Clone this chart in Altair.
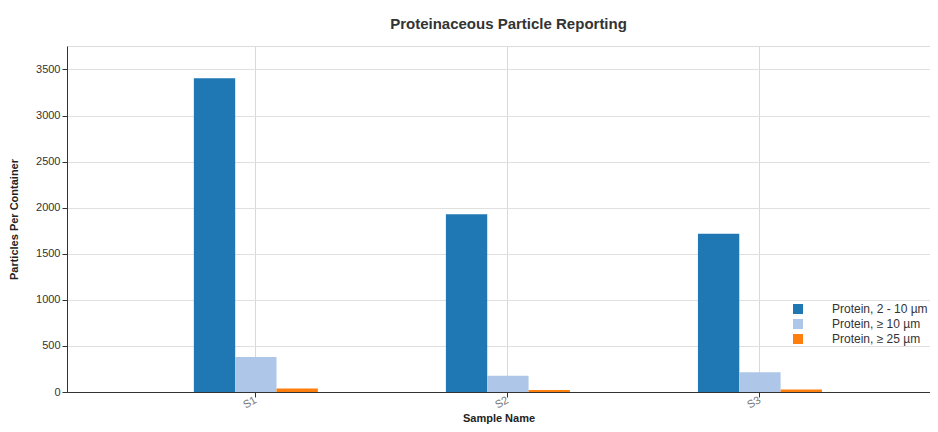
import altair as alt
import pandas as pd

samples = ["S1", "S2", "S3"]
series = ["Protein, 2 - 10 µm", "Protein, ≥ 10 µm", "Protein, ≥ 25 µm"]
vals_2_10 = [3405, 1930, 1718]
vals_ge10 = [380, 175, 215]
vals_ge25 = [38, 22, 28]
colors = ["#1f77b4", "#aec7e8", "#ff7f0e"]
y_ticks = [0, 500, 1000, 1500, 2000, 2500, 3000, 3500]

rows = []
for s_name, vals in zip(series, [vals_2_10, vals_ge10, vals_ge25]):
    for smp, v in zip(samples, vals):
        rows.append({"Sample": smp, "Series": s_name, "Value": v})
df = pd.DataFrame(rows)

chart = alt.Chart(df).mark_bar().encode(
    x=alt.X("Sample:N", sort=samples,
            scale=alt.Scale(paddingInner=0.508, paddingOuter=0.466, align=0.54),
            axis=alt.Axis(title="Sample Name", labelAngle=-30, labelAlign="right",
                          labelBaseline="middle", labelColor="#777", labelFontSize=11,
                          grid=True, gridColor="#d9d9d9", tickColor="#333",
                          domainColor="#333", titleFontSize=11, titleFontWeight="bold",
                          titleColor="#222", titleY=26, titleBaseline="middle")),
    xOffset=alt.XOffset("Series:N", sort=series, scale=alt.Scale(paddingInner=0, paddingOuter=0)),
    y=alt.Y("Value:Q", scale=alt.Scale(domain=[0, 3755], nice=False),
            axis=alt.Axis(title="Particles Per Container", values=y_ticks, format="d",
                          labelColor="#333", labelFontSize=11, gridColor="#e0e0e0",
                          tickColor="#333", domainColor="#333", titleFontSize=11,
                          titleFontWeight="bold", titleColor="#222",
                          titleX=-53, titleY=173, titleAngle=-90,
                          titleAlign="center", titleBaseline="middle")),
    color=alt.Color("Series:N", sort=series,
                    scale=alt.Scale(domain=series, range=colors),
                    legend=alt.Legend(title=None, orient="none", legendX=725, legendY=257,
                                      symbolType="square", symbolSize=100,
                                      symbolStrokeWidth=0, labelOffset=28,
                                      labelFontSize=12, labelColor="#333",
                                      rowPadding=3, padding=0)),
).properties(
    width=863, height=346,
    title=alt.TitleParams("Proteinaceous Particle Reporting", fontSize=15,
                          fontWeight="bold", color="#333", anchor="middle", offset=14, dx=10),
    autosize=alt.AutoSizeParams(type="none"),
    padding={"left": 59, "top": 38, "right": 0, "bottom": 32},
).configure_view(stroke=None).configure(font="Liberation Sans")

chart.save("out.html", embed_options={"renderer": "svg", "actions": False})
